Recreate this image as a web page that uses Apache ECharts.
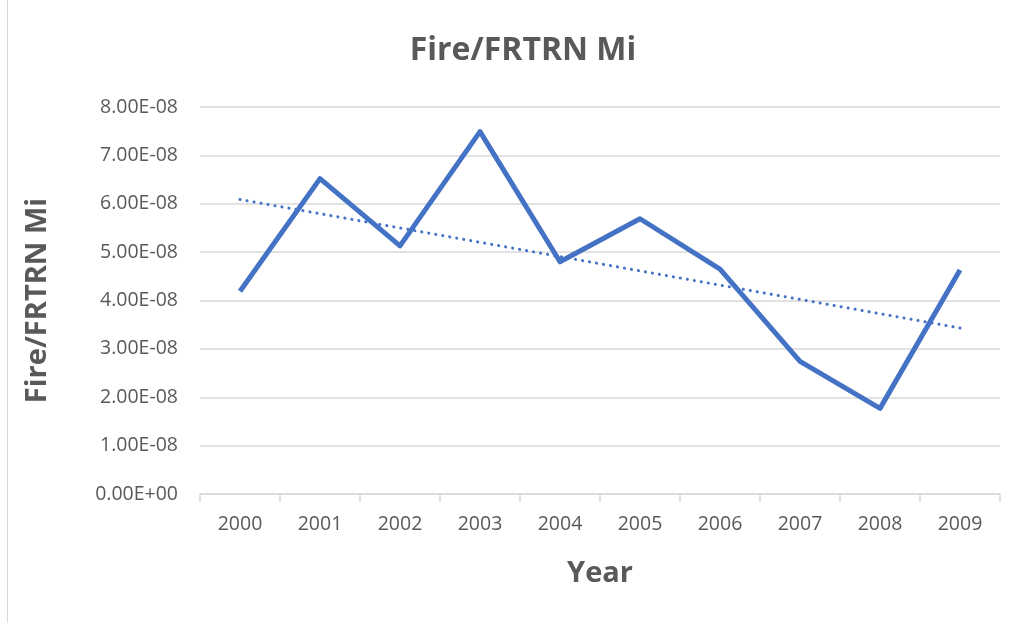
<!DOCTYPE html>
<html><head><meta charset="utf-8">
<script src="https://cdn.jsdelivr.net/npm/echarts@6/dist/echarts.min.js"></script>
<style>html,body{margin:0;padding:0;background:#fff}#c{width:1016px;height:623px}</style>
</head><body><div id="c"></div>
<script>
const years = ['2000','2001','2002','2003','2004','2005','2006','2007','2008','2009'];
const values = [4.19e-8, 6.52e-8, 5.13e-8, 7.49e-8, 4.80e-8, 5.69e-8, 4.65e-8, 2.74e-8, 1.77e-8, 4.63e-8];
const trend = [6.09e-8, null, null, null, null, null, null, null, null, 3.43e-8];
const yTicks = { min: 0, max: 8e-8, interval: 1e-8 };

const chart = echarts.init(document.getElementById('c'));
const font = '"Open Sans", "Liberation Sans", sans-serif';
chart.setOption({
  animation: false,
  textStyle: { fontFamily: font },
  title: { text: 'Fire/FRTRN Mi', left: 'center', top: 30, left: 518, textAlign: 'center',
    textStyle: { fontFamily: font, fontSize: 32, fontWeight: 'bold', color: '#595959' } },
  graphic: [{ type: 'rect', shape: { x: 7.5, y: -2, width: 1020, height: 630 },
    style: { fill: 'none', stroke: '#d9d9d9', lineWidth: 1 } }],
  grid: { left: 200, right: 16, top: 107, bottom: 129 },
  xAxis: {
    type: 'category', data: years, boundaryGap: true,
    name: 'Year', nameLocation: 'middle', nameGap: 65,
    nameTextStyle: { fontFamily: font, fontSize: 29, fontWeight: 'bold', color: '#595959' },
    axisLine: { lineStyle: { color: '#d9d9d9', width: 1.5 } },
    axisTick: { show: true, length: 8, lineStyle: { color: '#d9d9d9', width: 1.5 } },
    axisLabel: { fontSize: 19.5, color: '#595959', margin: 20 }
  },
  yAxis: {
    type: 'value', min: yTicks.min, max: yTicks.max, interval: yTicks.interval,
    name: 'Fire/FRTRN Mi', nameLocation: 'middle', nameGap: 148,
    nameTextStyle: { fontFamily: font, fontSize: 29, fontWeight: 'bold', color: '#595959' },
    axisLine: { show: false }, axisTick: { show: false },
    axisLabel: { fontSize: 19.5, color: '#595959', margin: 22,
      formatter: v => v.toExponential(2).replace(/e([+-])(\d)$/, 'E$10$2').replace('e', 'E') },
    splitLine: { lineStyle: { color: '#d9d9d9', width: 1.5 } }
  },
  series: [
    { type: 'line', data: values, symbol: 'none', lineStyle: { color: '#4472C4', width: 5, join: 'round' }, z: 3 },
    { type: 'line', data: trend, connectNulls: true, symbol: 'none',
      lineStyle: { color: '#4472C4', width: 3, type: [0.1, 7], cap: 'round' }, z: 2 }
  ]
});
</script></body></html>
